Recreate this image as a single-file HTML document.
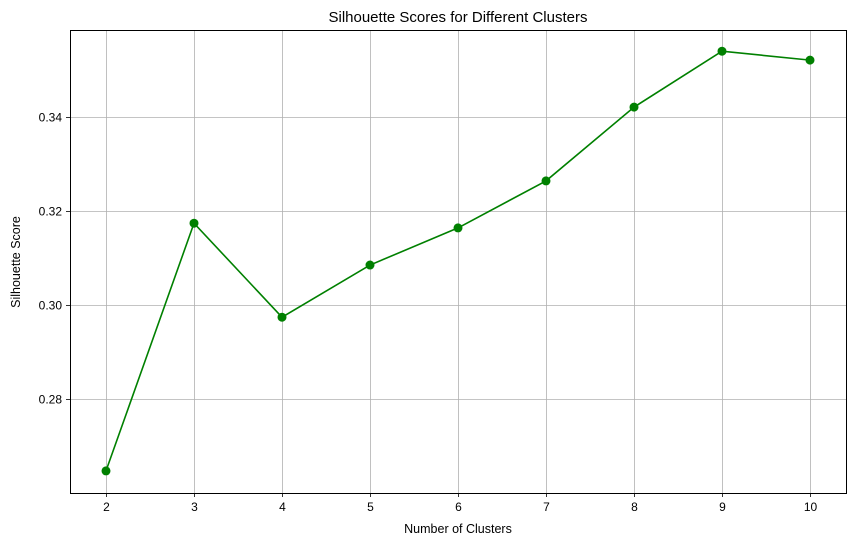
<!DOCTYPE html>
<html><head><meta charset="utf-8">
<style>
html,body{margin:0;padding:0;background:#fff;}
svg{display:block;font-family:"Liberation Sans","DejaVu Sans",sans-serif;}
</style></head>
<body>
<svg id="chart" width="855" height="545" viewBox="0 0 855 545">
  <text x="458" y="22" text-anchor="middle" font-size="15">Silhouette Scores for Different Clusters</text>
  <g id="grid"></g>
  <g id="xticks"></g>
  <g id="yticks"></g>
  <g id="series"></g>
  <rect x="70.5" y="30.5" width="776" height="463" fill="none" stroke="#000" stroke-width="1"/>
  <text x="458" y="533" text-anchor="middle" font-size="12.5">Number of Clusters</text>
  <text transform="translate(20,262) rotate(-90)" text-anchor="middle" font-size="12.5">Silhouette Score</text>
</svg>
<script>
const clusters = [2,3,4,5,6,7,8,9,10];
const scores = [0.2647,0.3174,0.2974,0.3085,0.3164,0.3264,0.3421,0.3540,0.3521];
const xTicks = [2,3,4,5,6,7,8,9,10];
const yTicks = [0.28,0.30,0.32,0.34];
const yTickLabels = ["0.28","0.30","0.32","0.34"];

const NS = "http://www.w3.org/2000/svg";
const L = 70, R = 846, T = 30, B = 493;
function xs(v){ return 106 + (v - 2) * 88; }
function ys(v){ return 399 - (v - 0.28) * 4700; }
function mk(tag, attrs, parent){
  const e = document.createElementNS(NS, tag);
  for (const k in attrs) e.setAttribute(k, attrs[k]);
  parent.appendChild(e);
  return e;
}
const grid = document.getElementById('grid');
const gx = document.getElementById('xticks');
const gy = document.getElementById('yticks');
const gs = document.getElementById('series');

xTicks.forEach(v => {
  const x = Math.round(xs(v)) + 0.5;
  const gl = mk('line', {x1:x, x2:x, y1:T, y2:B, stroke:'#b0b0b0', 'stroke-width':0.8}, grid);
  
  
  const tk = mk('line', {x1:x, x2:x, y1:B, y2:B+4, stroke:'#000', 'stroke-width':0.8}, gx);
  
  
  const t = mk('text', {x:x, y:B+18, 'text-anchor':'middle', 'font-size':12}, gx);
  t.textContent = v;
  
  
});
yTicks.forEach((v, i) => {
  const y = Math.round(ys(v)) + 0.5;
  const gl = mk('line', {x1:L, x2:R, y1:y, y2:y, stroke:'#b0b0b0', 'stroke-width':0.8}, grid);
  
  
  const tk = mk('line', {x1:L-4, x2:L, y1:y, y2:y, stroke:'#000', 'stroke-width':0.8}, gy);
  
  
  const t = mk('text', {x:L-8, y:y+4, 'text-anchor':'end', 'font-size':12}, gy);
  t.textContent = yTickLabels[i];
  
  
});
const pts = clusters.map((c, i) => xs(c) + ',' + ys(scores[i])).join(' ');
const line = mk('polyline', {points:pts, fill:'none', stroke:'#008000', 'stroke-width':1.6}, gs);


clusters.forEach((c, i) => {
  const p = mk('circle', {cx:xs(c), cy:ys(scores[i]), r:4.5, fill:'#008000'}, gs);
  
  
});
</script>
</body></html>
